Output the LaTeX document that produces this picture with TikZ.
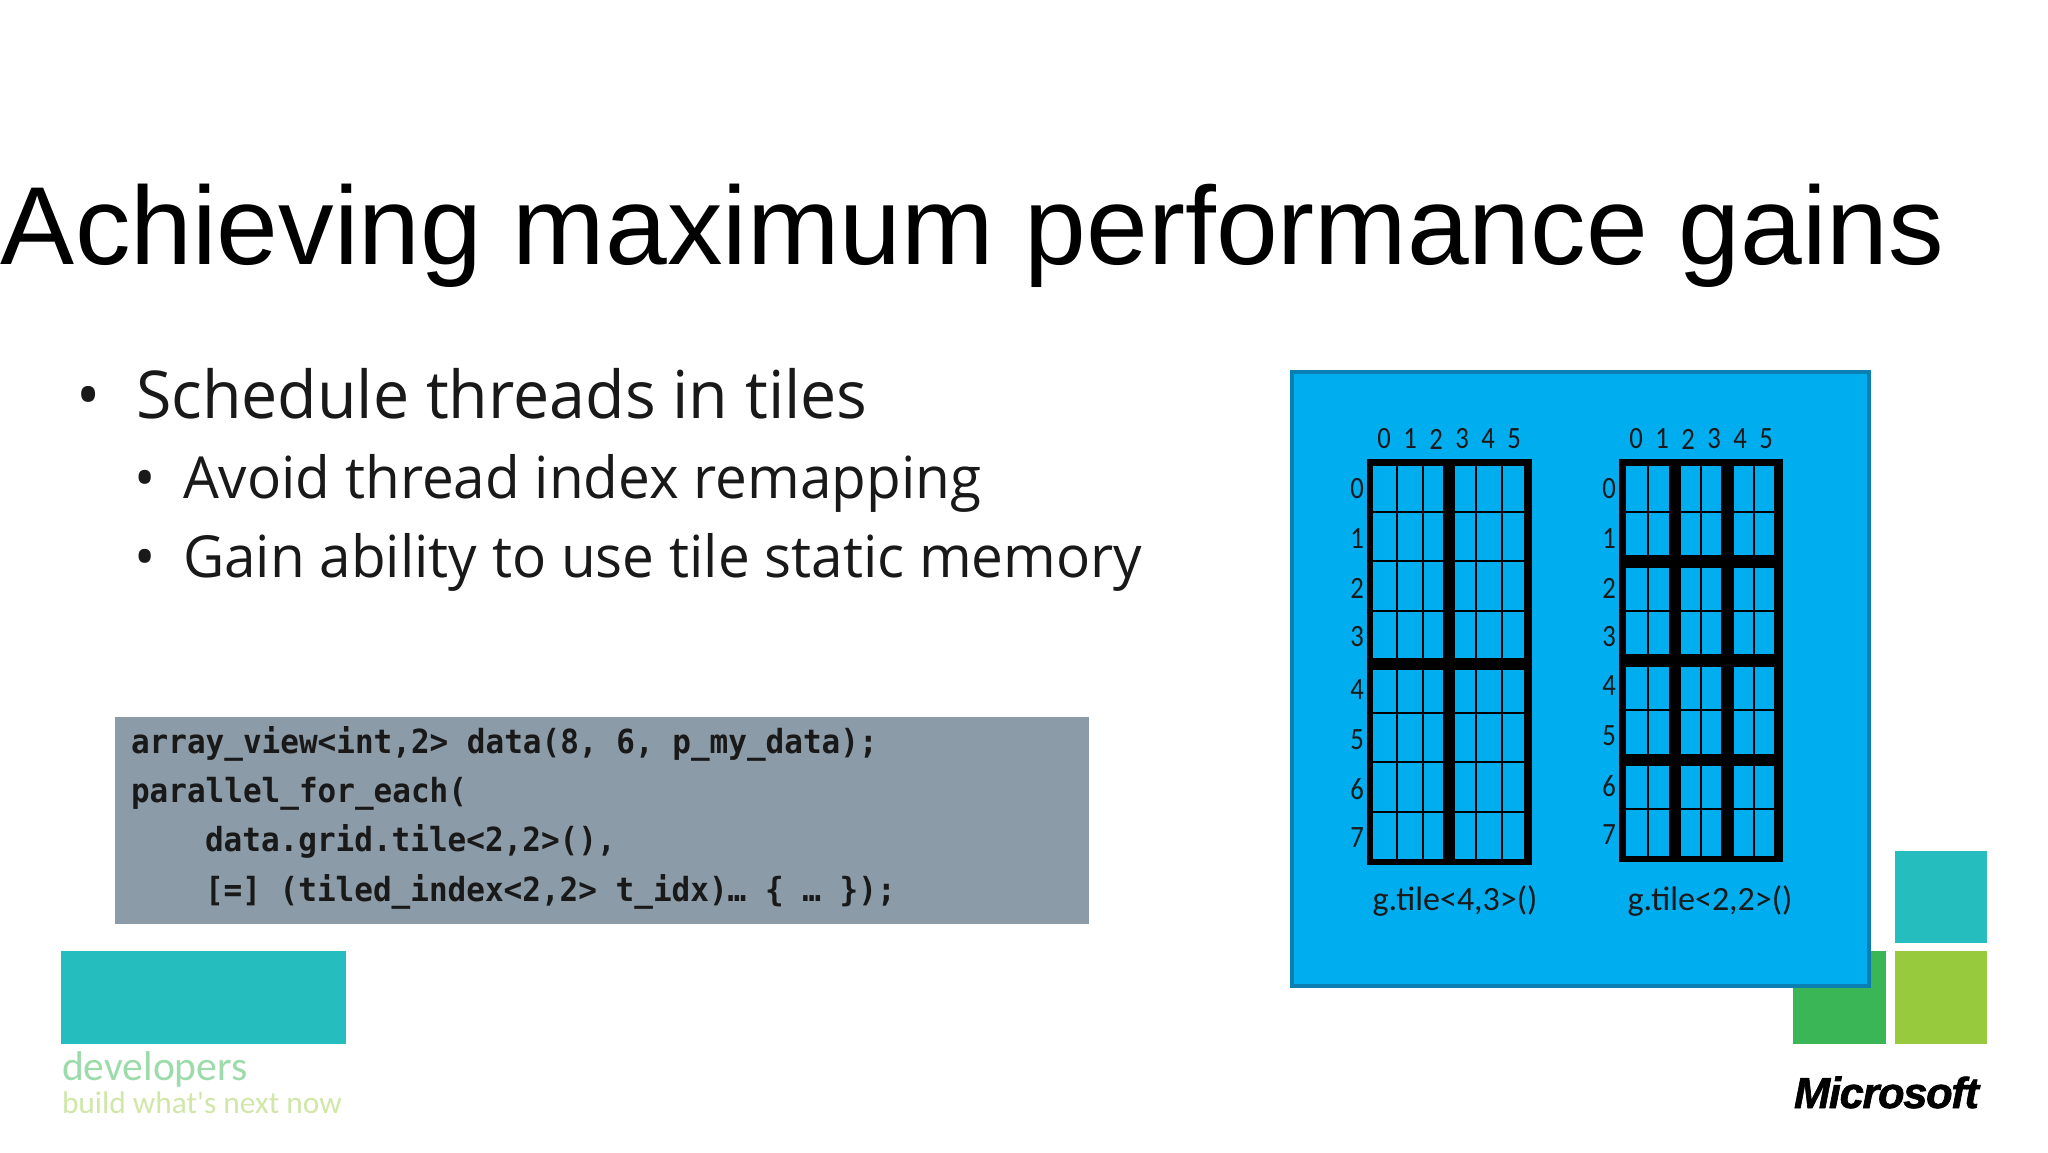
\documentclass[tikz,border=0pt]{standalone}
\usepackage{fontspec}
\setmainfont{Liberation Sans}
\newfontfamily\segoe[FakeStretch=0.977]{Open Sans}
\newfontfamily\calib{Carlito}
\newfontfamily\calibn[FakeStretch=0.86]{Carlito}
\newfontfamily\codef[FakeStretch=0.934]{DejaVu Sans Mono}
\newfontfamily\msf[BoldItalicFeatures={FakeBold=1.5},LetterSpace=-3]{Liberation Sans}
\newcommand{\fs}[1]{\fontsize{#1}{#1}\selectfont}
\definecolor{boxblue}{HTML}{00ADEF}
\definecolor{boxedge}{HTML}{0B7FB2}
\definecolor{codegray}{HTML}{8B9BA7}
\definecolor{logoteal}{HTML}{26BDBF}
\definecolor{logogreen}{HTML}{3BB657}
\definecolor{logolime}{HTML}{97CA3D}
\tikzset{
  txt/.style={inner sep=0pt,outer sep=0pt,anchor=base west},
  titletxt/.style={txt,font=\fs{55.5}},
  lvlone/.style={txt,font=\segoe\fs{33},text=black!90},
  lvltwo/.style={txt,font=\segoe\fs{29},text=black!90},
  codetxt/.style={txt,font=\codef\bfseries\fs{16.6},text=black!90},
  num/.style={inner sep=0pt,outer sep=0pt,font=\calibn\fs{15.5},text=black!90},
  caption/.style={inner sep=0pt,outer sep=0pt,font=\calib\fs{17},text=black!90},
  thin line/.style={black,line width=1pt},
}
\begin{document}
\begin{tikzpicture}[x=0.5pt,y=-0.5pt]
\useasboundingbox (0,0) rectangle (2048,1152);
\fill[white] (0,0) rectangle (2048,1152);
% title
\node[titletxt] (title) at (1,264) {Achieving maximum performance gains};
% bullets
\node[lvlone] (b1) at (76,418) {•};
\node[lvlone] (t1) at (136,418) {Schedule threads in tiles};
\node[lvltwo] (b2) at (134,498) {•};
\node[lvltwo] (t2) at (183,498) {Avoid thread index remapping};
\node[lvltwo] (b3) at (134,577) {•};
\node[lvltwo] (t3) at (183,577) {Gain ability to use tile static memory};
% code
\fill[codegray] (115,717) rectangle (1089,924);
\node[codetxt] (c1) at (131,753) {array\_view<int,2> data(8, 6, p\_my\_data);};
\node[codetxt] (c2) at (131,802) {parallel\_for\_each(};
\node[codetxt] (c3) at (205,851) {data.grid.tile<2,2>(),};
\node[codetxt] (c4) at (205,901) {[=] (tiled\_index<2,2> t\_idx)… \{ … \});};
% developers logo
\fill[logoteal] (61,951) rectangle (346,1044);
\node[txt,font=\calib\fs{20.8},text=logogreen!50] (dev) at (62,1080) {developers};
\node[txt,font=\calib\fs{15.7},text=logolime!45] (build) at (62,1113) {build what's next now};
% microsoft logo
\fill[logoteal] (1895,851) rectangle (1987,943);
\fill[logogreen] (1793,951) rectangle (1886,1044);
\fill[logolime] (1895,951) rectangle (1987,1044);
\node[txt,font=\msf\bfseries\itshape\fs{21.7}] (ms) at (1794,1108) {Microsoft};
% blue panel
\draw[line width=2pt,draw=boxedge,fill=boxblue] (1296,372) ++(-4,0) rectangle (1869,986);
% grid 1
\fill[black] (1367,459) rectangle (1373,865);
\fill[black] (1524,459) rectangle (1532,865);
\fill[black] (1367,459) rectangle (1532,466);
\fill[black] (1367,859) rectangle (1532,865);
\fill[black] (1443,459) rectangle (1455,865);
\fill[black] (1367,657.5) rectangle (1532,670);
\foreach \x in {1397,1423,1475.5,1502} \draw[thin line] (\x,466) -- (\x,859);
\foreach \y in {512,561,611,713,762,812} \draw[thin line] (1373,\y) -- (1524,\y);
% grid 2
\fill[black] (1619,459) rectangle (1626,862);
\fill[black] (1774,459) rectangle (1783,862);
\fill[black] (1619,459) rectangle (1783,466);
\fill[black] (1619,855.5) rectangle (1783,862);
\fill[black] (1668.5,459) rectangle (1681,862);
\fill[black] (1721,459) rectangle (1734,862);
\fill[black] (1619,555) rectangle (1783,568);
\fill[black] (1619,654) rectangle (1783,667);
\fill[black] (1619,753.5) rectangle (1783,766);
\foreach \x in {1648,1701,1754} \draw[thin line] (\x,466) -- (\x,855.5);
\foreach \y in {512,611,710,809} \draw[thin line] (1626,\y) -- (1774,\y);
% labels grid 1
\foreach \x/\t in {1384/0,1410/1,1436/2,1462/3,1488/4,1514/5}
  \node[num] (ga\t) at (\x,439) {\t};
\foreach \y/\t in {489/0,539/1,588/2,637/3,690/4,740/5,789/6,838/7}
  \node[num] (la\t) at (1357,\y) {\t};
\node[caption] (capa) at (1455,901) {g.tile<4,3>()};
% labels grid 2
\foreach \x/\t in {1636/0,1662/1,1688/2,1714/3,1740/4,1766/5}
  \node[num] (gb\t) at (\x,439) {\t};
\foreach \y/\t in {489/0,539/1,588/2,637/3,686/4,736/5,786/6,835/7}
  \node[num] (lb\t) at (1609,\y) {\t};
\node[caption] (capb) at (1710,901) {g.tile<2,2>()};
\end{tikzpicture}
\end{document}
